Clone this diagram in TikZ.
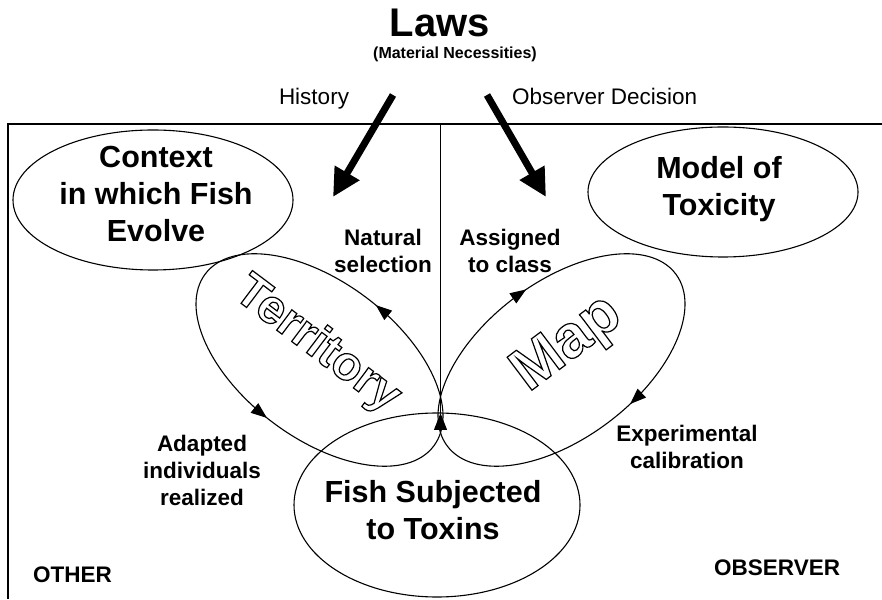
\documentclass[tikz,border=0pt]{standalone}
\usepackage{fontspec}
\setmainfont{Liberation Sans}
\usetikzlibrary{arrows.meta,decorations.markings}

% stroked (hollow) glyphs through the PDF text render mode
\newcommand{\hollowword}[1]{\special{pdf:literal direct 1 Tr 1.2 w}#1\special{pdf:literal direct 0 Tr}}

\tikzset{
  smallhead/.tip={Triangle[length=16pt,width=12pt]},
  loopline/.style={line width=1.1pt},
  framelines/.style={line width=1.1pt},
  bigarrow/.style={line width=7pt,-{Triangle[length=28pt,width=27pt]}},
  bigtext/.style={font=\fontsize{30.5}{37}\selectfont\bfseries,align=center,inner sep=0pt},
  smalltext/.style={font=\fontsize{22.5}{27}\selectfont\bfseries,align=center,inner sep=0pt},
  plaintext/.style={font=\fontsize{22.5}{27}\selectfont,inner sep=0pt},
  hollowtext/.style={font=\bfseries,inner sep=0pt},
}

\begin{document}
\begin{tikzpicture}[x=1pt,y=1pt]
\useasboundingbox (0,0) rectangle (882,599);

% heading
\node[font=\fontsize{40}{40}\selectfont\bfseries,anchor=base,inner sep=0pt] (laws) at (440,562) {Laws};
\node[font=\fontsize{16}{16}\selectfont\bfseries,anchor=base,inner sep=0pt] (necess) at (455,540) {(Material Necessities)};
\node[plaintext,anchor=base] (history) at (314,494) {History};
\node[plaintext,anchor=base west] (decision) at (512,494) {Observer Decision};

% frame and divider
\coordinate (frameR) at (882,475);
\coordinate (frameTL) at (8,475);
\coordinate (frameBL) at (8,0);
\coordinate (divTop) at (440.5,475);
\coordinate (cusp) at (440.5,186);
\coordinate (cuspBase) at (440.5,168);
\draw[framelines] (frameR) -- (frameTL) -- (frameBL);
\draw[framelines] (divTop) -- (cusp);
\draw[framelines,-{Triangle[length=17pt,width=13pt]}] (cuspBase) -- (cusp);

% outer ellipses
\draw[loopline] (153,399) ellipse [x radius=140, y radius=70];
\draw[loopline] (723,407) ellipse [x radius=135, y radius=65];
\draw[loopline] (437,94) ellipse [x radius=143, y radius=92];

% territory loop
\draw[loopline, rotate around={-37:(319.5,239)},
  postaction={decorate},
  decoration={markings,
    mark=at position 0.233 with {\arrow{smallhead}},
    mark=at position 0.74 with {\arrow{smallhead}}}]
  (319.5,239) ellipse [x radius=143, y radius=78];

% map loop
\draw[loopline, rotate around={37:(561.5,239)},
  postaction={decorate},
  decoration={markings,
    mark=at position 0.23 with {\arrowreversed{smallhead}},
    mark=at position 0.79 with {\arrowreversed{smallhead}}}]
  (561.5,239) ellipse [x radius=143, y radius=78];

% big arrows
\coordinate (histStart) at (393,504);
\coordinate (histEnd) at (333,402);
\coordinate (obsStart) at (487,504);
\coordinate (obsEnd) at (546,402);
\draw[bigarrow] (histStart) -- (histEnd);
\draw[bigarrow] (obsStart) -- (obsEnd);

% ellipse labels
\node[bigtext] (context) at (156,405) {Context\\in which Fish\\Evolve};
\node[bigtext] (model) at (719,410) {Model of\\Toxicity};
\node[bigtext] (fish) at (433,88.5) {Fish Subjected\\to Toxins};

\node[hollowtext,font=\fontsize{48}{48}\selectfont\bfseries,rotate=-37] (terr) at (317,254) {\hollowword{Territory}};
\node[hollowtext,font=\fontsize{60}{60}\selectfont\bfseries,rotate=37] (map) at (568,254) {\hollowword{Map}};

% process labels
\node[smalltext] (natural) at (383,348) {Natural\\selection};
\node[smalltext] (assigned) at (510,348) {Assigned\\to class};
\node[smalltext] (adapted) at (202,129) {Adapted\\individuals\\realized};
\node[smalltext] (calib) at (687,152) {Experimental\\calibration};

% region labels
\node[smalltext,anchor=base west] (other) at (33,17) {OTHER};
\node[smalltext,anchor=base west] (observer) at (714,24) {OBSERVER};
\end{tikzpicture}
\end{document}
